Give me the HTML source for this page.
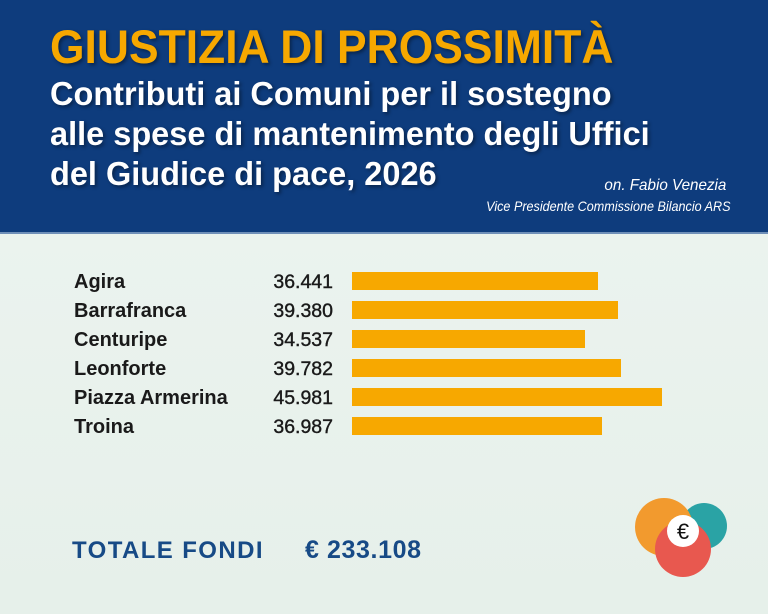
<!DOCTYPE html>
<html><head><meta charset="utf-8"><style>
body{margin:0;width:768px;height:614px;overflow:hidden;position:relative;font-family:"Liberation Sans",sans-serif;background:linear-gradient(180deg,#eef5f1 0%,#e6f0ea 100%)}
.hdr{position:absolute;left:0;top:0;width:768px;height:232px;background:#0e3c7d;border-bottom:2px solid #6f8fb8}
.t{position:absolute;white-space:nowrap;transform-origin:0 0}
.lab{position:absolute;left:74px;font-weight:bold;font-size:20px;color:#1a1a1a;white-space:nowrap}
.val{position:absolute;right:435px;font-size:19.5px;color:#1a1a1a;text-align:right;-webkit-text-stroke:0.4px #1a1a1a}
.bar{position:absolute;left:352px;height:18px;background:#f7a800}
</style></head><body>
<div class="hdr"></div>
<div class="t" style="left:50px;top:19px;font-size:47px;font-weight:bold;color:#f6a800;transform:scaleX(0.945);text-shadow:2px 2px 4px rgba(0,0,0,.4)">GIUSTIZIA DI PROSSIMITÀ</div>
<div class="t" style="left:50px;top:74px;font-size:33px;font-weight:bold;color:#fff;line-height:40px;transform:scaleX(0.985);text-shadow:2px 2px 4px rgba(0,0,0,.4)">Contributi ai Comuni per il sostegno<br>alle spese di mantenimento degli Uffici<br>del Giudice di pace, 2026</div>
<div class="t" style="right:42px;top:177px;font-size:16px;font-style:italic;color:#fff;transform:scaleX(0.95);transform-origin:100% 0">on. Fabio Venezia</div>
<div class="t" style="right:37px;top:198px;font-size:14px;font-style:italic;color:#fff;transform:scaleX(0.9);transform-origin:100% 0">Vice Presidente Commissione Bilancio ARS</div>

<div class="lab" style="top:271px">Agira</div><div class="val" style="top:271px">36.441</div><div class="bar" style="top:272px;width:246px"></div>
<div class="lab" style="top:300px">Barrafranca</div><div class="val" style="top:300px">39.380</div><div class="bar" style="top:301px;width:266px"></div>
<div class="lab" style="top:329px">Centuripe</div><div class="val" style="top:329px">34.537</div><div class="bar" style="top:330px;width:233px"></div>
<div class="lab" style="top:358px">Leonforte</div><div class="val" style="top:358px">39.782</div><div class="bar" style="top:359px;width:269px"></div>
<div class="lab" style="top:387px">Piazza Armerina</div><div class="val" style="top:387px">45.981</div><div class="bar" style="top:388px;width:310px"></div>
<div class="lab" style="top:416px">Troina</div><div class="val" style="top:416px">36.987</div><div class="bar" style="top:417px;width:250px"></div>

<div class="t" style="left:72px;top:537px;font-size:24px;font-weight:bold;color:#174a86;letter-spacing:1.4px">TOTALE FONDI</div>
<div class="t" style="left:305px;top:536px;font-size:25px;font-weight:bold;color:#174a86;letter-spacing:0.6px">€ 233.108</div>

<svg style="position:absolute;left:620px;top:480px" width="148" height="134">
<circle cx="84" cy="46" r="23" fill="#2aa3a5"/>
<circle cx="44" cy="47" r="29" fill="#f29a2e"/>
<circle cx="63" cy="69" r="28" fill="#e8584f"/>
<circle cx="63" cy="51" r="16" fill="#fff"/>
<text x="63" y="59" font-family="Liberation Sans,sans-serif" font-size="22" text-anchor="middle" fill="#111">€</text>
</svg>
</body></html>
